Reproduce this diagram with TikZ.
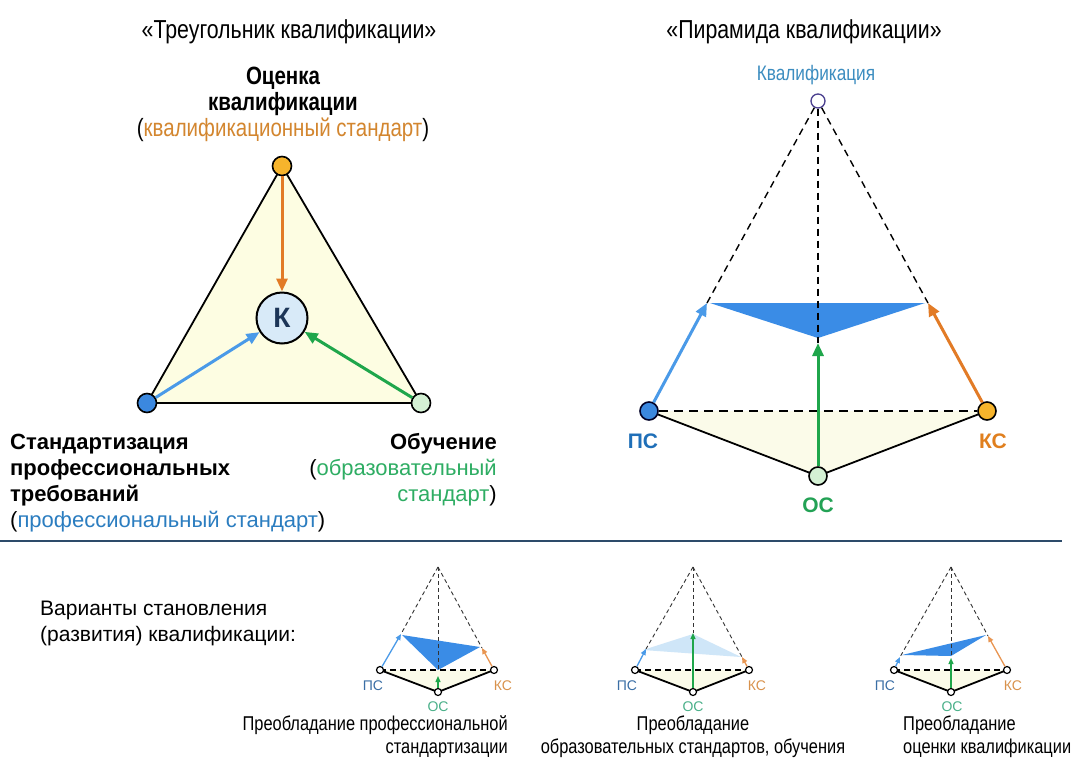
\documentclass[tikz,border=0pt]{standalone}
\usepackage{fontspec}
\setmainfont{Liberation Sans}
\newfontfamily\narrowfont[FakeStretch=0.82]{Liberation Sans}
\usetikzlibrary{arrows.meta,backgrounds}

\definecolor{cBlue}{HTML}{4A9AE8}
\definecolor{cOrange}{HTML}{E27B26}
\definecolor{cGreen}{HTML}{1FA64B}
\definecolor{cYellowFill}{HTML}{FDFDE2}
\definecolor{cBaseFill}{HTML}{FBFBE9}
\definecolor{cKfill}{HTML}{D8EAF8}
\definecolor{cKtext}{HTML}{1C3557}
\definecolor{vOrange}{HTML}{F6B42C}
\definecolor{vBlue}{HTML}{3B88DF}
\definecolor{vGreen}{HTML}{D4F1D4}
\definecolor{tOrange}{HTML}{D3862F}
\definecolor{tBlue}{HTML}{2B7DC0}
\definecolor{tGreen}{HTML}{2EAD63}
\definecolor{tQual}{HTML}{3C8DC0}
\definecolor{lPS}{HTML}{1F6FB8}
\definecolor{lKS}{HTML}{E07F1E}
\definecolor{lOS}{HTML}{23A255}
\definecolor{sPS}{HTML}{3A6EA5}
\definecolor{sKS}{HTML}{D8924C}
\definecolor{sOS}{HTML}{4AB089}
\definecolor{triBlue}{HTML}{3A8CE6}
\definecolor{triPale}{HTML}{CFE6F8}
\definecolor{apexRing}{HTML}{4A3F8F}
\definecolor{ruleColor}{HTML}{2D4B6A}

\newcommand\fsz[1]{\fontsize{#1}{#1}\selectfont}

\begin{document}
\begin{tikzpicture}[x=1pt,y=-1pt,
  txt/.style={inner sep=0pt,anchor=base},
  title/.style={txt,font=\narrowfont\fsz{26}},
  headline/.style={txt,font=\narrowfont\bfseries\fsz{25}},
  subline/.style={txt,font=\narrowfont\fsz{25}},
  sideline/.style={txt,font=\bfseries\fsz{22}},
  sidenote/.style={txt,font=\fsz{22}},
  caption/.style={txt,font=\narrowfont\fsz{20}},
  bigvertex/.style={circle,draw=black,line width=1.6pt,minimum size=19pt,inner sep=0pt},
  pyrvertex/.style={circle,draw=#1,line width=1.6pt,minimum size=18pt,inner sep=0pt},
  minivertex/.style={circle,draw=black,line width=1.2pt,fill=white,minimum size=7pt,inner sep=0pt},
  bigarrow/.style={line width=3pt,-{Triangle[length=13pt,width=11pt]}},
  miniarrow/.style={line width=1.3pt,-{Triangle[length=6pt,width=5pt]}},
  guide/.style={line width=1.4pt,dash pattern=on 7pt off 5pt},
  baseguide/.style={line width=2pt,dash pattern=on 9pt off 6pt},
  miniguide/.style={line width=0.9pt,draw=black!80,dash pattern=on 4pt off 3pt},
  minibase/.style={line width=1.6pt,dash pattern=on 6pt off 4pt},
  edge/.style={line width=1.8pt,draw=black},
  pslabel/.style={txt,font=\bfseries\fsz{21}},
  minilabel/.style={txt,font=\fsz{14}}
]
\useasboundingbox (0,0) rectangle (1082,758);
\begin{scope}[on background layer]
  \fill[white] (0,0) rectangle (1082,758);
\end{scope}

% ---------- titles ----------
\node[title] (t1) at (289,38) {«Треугольник квалификации»};
\node[title] (t2) at (804,38) {«Пирамида квалификации»};

% ---------- triangle of qualification ----------
\node[bigvertex,fill=vOrange] (T) at (282,166) {};
\node[bigvertex,fill=vBlue] (L) at (147,403) {};
\node[bigvertex,fill=vGreen] (R) at (421,403) {};
\node[circle,draw=black,line width=2pt,fill=cKfill,minimum size=51pt,inner sep=0pt,
      font=\bfseries\fsz{28},text=cKtext] (K) at (282,318) {К};

\begin{scope}[on background layer]
  \fill[cYellowFill] (T.center) -- (L.center) -- (R.center) -- cycle;
  \draw[edge] (T.center) -- (L.center);
  \draw[edge] (L.center) -- (R.center);
  \draw[edge] (R.center) -- (T.center);
\end{scope}

\draw[bigarrow,cOrange] (T) -- (K);
\draw[bigarrow,cBlue] (L) -- (K);
\draw[bigarrow,cGreen] (R) -- (K);

\node[headline] (q1) at (283,84) {Оценка};
\node[headline] (q2) at (283,110) {квалификации};
\node[subline] (q3) at (283,136) {(\textcolor{tOrange}{квалификационный стандарт})};

\node[sideline,anchor=base west] (s1) at (10,449) {Стандартизация};
\node[sideline,anchor=base west] (s2) at (10,475) {профессиональных};
\node[sideline,anchor=base west] (s3) at (10,501) {требований};
\node[sidenote,anchor=base west] (s4) at (10,527) {(\textcolor{tBlue}{профессиональный стандарт})};

\node[sideline,anchor=base east] (e1) at (497,449) {Обучение};
\node[sidenote,anchor=base east] (e2) at (497,475) {(\textcolor{tGreen}{образовательный}};
\node[sidenote,anchor=base east] (e3) at (497,501) {\textcolor{tGreen}{стандарт})};

% ---------- pyramid of qualification ----------
\node[circle,draw=apexRing,line width=1.3pt,fill=white,minimum size=14pt,inner sep=0pt] (A) at (818,101) {};
\node[pyrvertex=black!85!blue,fill=vBlue] (PS) at (649,411) {};
\node[pyrvertex=black,fill=vOrange] (KS) at (987,411) {};
\node[pyrvertex=black,fill=vGreen] (OS) at (818,476) {};

\coordinate (UL) at (707,303);
\coordinate (UR) at (928,303);
\coordinate (UM) at (818,343);

\begin{scope}[on background layer]
  \fill[cBaseFill] (PS.center) -- (OS.center) -- (KS.center) -- cycle;
  \draw[edge] (PS.center) -- (OS.center);
  \draw[edge] (OS.center) -- (KS.center);
\end{scope}
\draw[baseguide] (PS) -- (KS);

\fill[triBlue] (710,303) -- (925,303) -- (818,338) -- cycle;
\draw[guide] (A) -- (UL);
\draw[guide] (A) -- (UR);
\draw[guide] (A) -- (UM);

\draw[bigarrow,cBlue] (PS) -- (UL);
\draw[bigarrow,cOrange] (KS) -- (UR);
\draw[bigarrow,cGreen] (OS) -- (UM);

\node[txt,font=\narrowfont\fsz{21},text=tQual] (qual) at (816,80) {Квалификация};
\node[pslabel,text=lPS] (lps) at (643,448) {ПС};
\node[pslabel,text=lKS] (lks) at (993,448) {КС};
\node[pslabel,text=lOS] (los) at (818,512) {ОС};

% ---------- separator ----------
\coordinate (sepL) at (0,541);
\coordinate (sepR) at (1062,541);
\draw[ruleColor,line width=1.5pt] (sepL) -- (sepR);

% ---------- variants ----------
\node[txt,anchor=base west,font=\fsz{21}] (v1) at (40,615) {Варианты становления};
\node[txt,anchor=base west,font=\fsz{21}] (v2) at (40,641) {(развития) квалификации:};

% variant 1: professional standardisation prevails
\coordinate (a1) at (438,567);
\node[minivertex] (s1v) at (380,670) {};
\node[minivertex] (k1v) at (494,670) {};
\node[minivertex] (o1v) at (438,692) {};
\coordinate (u1l) at (401,634);
\coordinate (u1r) at (482,648);
\coordinate (u1m) at (438,676);
\coordinate (c1) at (438,670);
\begin{scope}[on background layer]
  \fill[cBaseFill] (s1v.center) -- (o1v.center) -- (k1v.center) -- cycle;
  \draw[edge] (s1v.center) -- (o1v.center) -- (k1v.center);
  \draw[minibase] (s1v.center) -- (k1v.center);
  \fill[triBlue] (402,635) -- (480,647) -- (438,670) -- cycle;
  \draw[miniguide] (a1) -- (u1l);
  \draw[miniguide] (a1) -- (u1r);
  \draw[miniguide] (a1) -- (c1);
\end{scope}
\draw[miniarrow,cBlue] (s1v) -- (u1l);
\draw[miniarrow,cOrange!80] (k1v) -- (u1r);
\draw[miniarrow,cGreen] (o1v) -- (u1m);
\node[minilabel,text=sPS] at (373,690) {ПС};
\node[minilabel,text=sKS] at (503,690) {КС};
\node[minilabel,text=sOS] at (438,711) {ОС};

% variant 2: educational standards prevail
\coordinate (a2) at (693,567);
\node[minivertex] (s2v) at (635,670) {};
\node[minivertex] (k2v) at (749,670) {};
\node[minivertex] (o2v) at (693,692) {};
\coordinate (u2l) at (646,649);
\coordinate (u2r) at (742,657);
\coordinate (u2m) at (693,633);
\begin{scope}[on background layer]
  \fill[cBaseFill] (s2v.center) -- (o2v.center) -- (k2v.center) -- cycle;
  \draw[edge] (s2v.center) -- (o2v.center) -- (k2v.center);
  \draw[minibase] (s2v.center) -- (k2v.center);
  \fill[triPale] (643,650) -- (741,657) -- (693,634) -- cycle;
  \draw[miniguide] (a2) -- (u2l);
  \draw[miniguide] (a2) -- (u2r);
  \draw[miniguide] (a2) -- (u2m);
\end{scope}
\draw[miniarrow,cBlue] (s2v) -- (u2l);
\draw[miniarrow,cOrange!80] (k2v) -- (u2r);
\draw[miniarrow,cGreen] (o2v) -- (u2m);
\node[minilabel,text=sPS] at (627,690) {ПС};
\node[minilabel,text=sKS] at (757,690) {КС};
\node[minilabel,text=sOS] at (693,711) {ОС};

% variant 3: qualification assessment prevails
\coordinate (a3) at (951,567);
\node[minivertex] (s3v) at (894,670) {};
\node[minivertex] (k3v) at (1007,670) {};
\node[minivertex] (o3v) at (951,692) {};
\coordinate (u3l) at (900,657);
\coordinate (u3r) at (988,636);
\coordinate (u3m) at (951,658);
\begin{scope}[on background layer]
  \fill[cBaseFill] (s3v.center) -- (o3v.center) -- (k3v.center) -- cycle;
  \draw[edge] (s3v.center) -- (o3v.center) -- (k3v.center);
  \draw[minibase] (s3v.center) -- (k3v.center);
  \fill[triBlue] (902,655) -- (986,635) -- (951,656) -- cycle;
  \draw[miniguide] (a3) -- (u3l);
  \draw[miniguide] (a3) -- (u3r);
  \draw[miniguide] (a3) -- (u3m);
\end{scope}
\draw[miniarrow,cBlue] (s3v) -- (u3l);
\draw[miniarrow,cOrange!80] (k3v) -- (u3r);
\draw[miniarrow,cGreen] (o3v) -- (u3m);
\node[minilabel,text=sPS] at (885,690) {ПС};
\node[minilabel,text=sKS] at (1013,690) {КС};
\node[minilabel,text=sOS] at (952,711) {ОС};

% captions
\node[caption,anchor=base east] (c1a) at (508,730) {Преобладание профессиональной};
\node[caption,anchor=base east] (c1b) at (508,753) {стандартизации};
\node[caption] (c2a) at (693,730) {Преобладание};
\node[caption] (c2b) at (693,753) {образовательных стандартов, обучения};
\node[caption,anchor=base west] (c3a) at (903,730) {Преобладание};
\node[caption,anchor=base west] (c3b) at (903,753) {оценки квалификации};
\end{tikzpicture}
\end{document}
